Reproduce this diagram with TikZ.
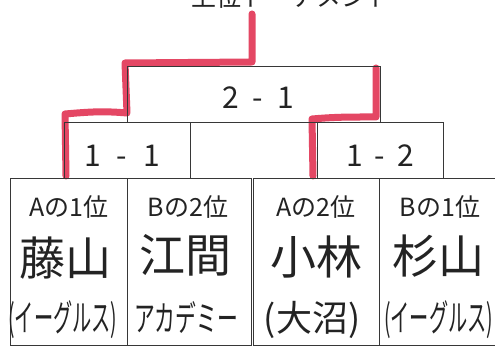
\documentclass[tikz,border=0pt]{standalone}
\usepackage{fontspec}
\newfontfamily\jp{Noto Sans CJK JP}
\definecolor{mk}{RGB}{226,52,84}
\definecolor{ln}{RGB}{55,55,55}
\definecolor{hw}{RGB}{35,35,35}
\begin{document}
\begin{tikzpicture}[x=1pt,y=-1pt,
  cellbox/.style n args={2}{draw=ln,line width=0.8pt,minimum width=#1,minimum height=#2,inner sep=0pt},
  lbltext/.style={font=\jp\fontsize{25}{25}\selectfont,text=hw,inner sep=0pt},
  scoretext/.style={font=\jp\fontsize{30}{30}\selectfont,text=hw,inner sep=0pt},
  nametext/.style={font=\jp\fontsize{46}{46}\selectfont,text=hw,inner sep=0pt},
  teamtext/.style={font=\jp\fontsize{32}{32}\selectfont,text=hw,inner sep=0pt},
  titletext/.style={font=\jp\fontsize{25}{25}\selectfont,text=hw,inner sep=0pt},
  redline/.style={draw=mk,line width=7pt,line cap=round,line join=round,opacity=0.9}]
\useasboundingbox (0,0) rectangle (495,352);
\fill[white] (0,0) rectangle (495,352);

% title (cut at top, as in the reference)
\node[titletext,anchor=base] (t) at (291,7) {上位トーナメント};

% winner path coordinates
\coordinate (r0) at (252,14);
\coordinate (r1) at (252,62);
\coordinate (r2) at (125,63);
\coordinate (r3) at (127,113);
\coordinate (r4) at (65,114);
\coordinate (r5) at (66,176);
\coordinate (s0) at (376,68);
\coordinate (s1) at (376,117);
\coordinate (s2) at (312,119);
\coordinate (s3) at (313,176);

\draw[redline] (r0) -- (r1) -- (r2) -- (r3) to[out=175,in=5] (r4) -- (r5);
\draw[redline] (s0) -- (s1) to[out=180,in=5] (s2) -- (s3);

% boxes
\node[cellbox={253pt}{56pt}] (f) at (253.5,94) {};
\node[cellbox={126pt}{56pt}] (m1) at (127,150) {};
\node[cellbox={126pt}{56pt}] (m2) at (380,150) {};
\node[cellbox={117pt}{167pt}] (b1) at (68.5,261.5) {};
\node[cellbox={124pt}{167pt}] (b2) at (189,261.5) {};
\node[cellbox={126pt}{167pt}] (b3) at (316,261.5) {};
\node[cellbox={124pt}{167pt}] (b4) at (441,261.5) {};

% scores
\node[scoretext] (sf) at (258,98) {2\hspace{14pt}-\hspace{14pt}1};
\node[scoretext] (s11) at (122,156) {1\hspace{16pt}-\hspace{16pt}1};
\node[scoretext] (s12) at (380,156) {1\hspace{12pt}-\hspace{12pt}2};

% labels
\node[lbltext] (l1) at (69,207) {Aの1位};
\node[lbltext] (l2) at (188,207) {Bの2位};
\node[lbltext] (l3) at (316,207) {Aの2位};
\node[lbltext] (l4) at (440,207) {Bの1位};

% names
\node[nametext] (n1) at (65,258) {藤山};
\node[nametext] (n2) at (185,255) {江間};
\node[nametext] (n3) at (316,257) {小林};
\node[nametext] (n4) at (438,256) {杉山};

% teams
\node[teamtext] (t1) at (63,320) {\scalebox{0.6}[1.15]{(イーグルス)}};
\node[teamtext] (t2) at (186,318) {\scalebox{0.65}[1.1]{アカデミー}};
\node[teamtext,font=\jp\fontsize{36}{36}\selectfont] (t3) at (312,320) {(大沼)};
\node[teamtext,anchor=west] (t4) at (384,320) {\scalebox{0.6}[1.15]{(イーグルス)}};
\end{tikzpicture}
\end{document}
